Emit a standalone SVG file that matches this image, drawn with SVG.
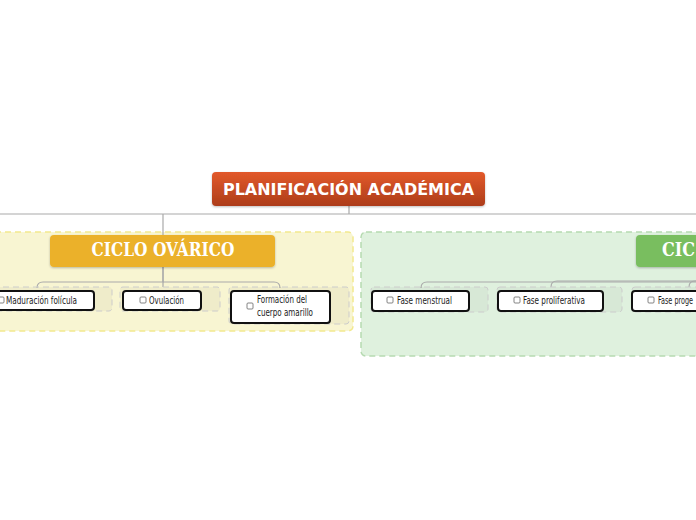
<svg xmlns="http://www.w3.org/2000/svg" width="696" height="520" viewBox="0 0 696 520">
<defs>
<linearGradient id="rootGrad" x1="0" y1="0" x2="0" y2="1">
<stop offset="0" stop-color="#e2592a"/>
<stop offset="1" stop-color="#ad3d1b"/>
</linearGradient>
<filter id="sh" x="-10%" y="-20%" width="120%" height="150%">
<feDropShadow dx="0" dy="1" stdDeviation="1" flood-color="#000" flood-opacity="0.25"/>
</filter>
</defs>
<style>
.conn{fill:none;stroke:#aaaaaa;stroke-width:1.2}
.wrap{fill:rgba(0,0,0,0.035);stroke:#cccccc;stroke-width:1;stroke-dasharray:6 4}
.leaf{fill:#ffffff;stroke:#111111;stroke-width:2}
.chk{fill:#ffffff;stroke:#666666;stroke-width:0.8}
.lt{font-family:"DejaVu Sans Condensed","DejaVu Sans","Liberation Sans",sans-serif;font-size:10.5px;fill:#222222}
.main{font-family:"DejaVu Serif","Liberation Serif",serif;font-weight:bold;font-size:18px;fill:#ffffff}
</style>
<rect width="696" height="520" fill="#ffffff"/>

<g id="boundaries">
<rect x="-20" y="232" width="373" height="99" rx="5" fill="#f8f5d2" stroke="#f2e98f" stroke-width="1.5" stroke-dasharray="6 4"/>
<rect x="361" y="232" width="360" height="124" rx="5" fill="#dff1de" stroke="#b6dab1" stroke-width="1.5" stroke-dasharray="6 4"/>
</g>

<g id="connectors">
<path class="conn" d="M349 206 V214 M0 214 H696 M163 214 V235" stroke-width="1.5"/>
<path class="conn" d="M163 267 V282 H43 Q37 282 37 288"/>
<path class="conn" d="M163 267 V287"/>
<path class="conn" d="M163 282 H274 Q280 282 280 288"/>
<path class="conn" d="M720 282 H427 Q421 282 421 288"/>
<path class="conn" d="M720 281 H557 Q551 281 551 287"/>
<path class="conn" d="M720 281 H695 Q689 281 689 287"/>
</g>

<g id="root">
<rect x="212" y="172" width="273" height="34" rx="4" fill="url(#rootGrad)" filter="url(#sh)"/>
<text x="348.5" y="194.5" text-anchor="middle" font-family="'DejaVu Sans','Verdana',sans-serif" font-weight="bold" font-size="15.5" fill="#ffffff" textLength="251" lengthAdjust="spacingAndGlyphs">PLANIFICACIÓN ACADÉMICA</text>
</g>

<g id="ciclo-ovarico">
<rect x="50" y="235" width="225" height="32" rx="4" fill="#ebb12b" filter="url(#sh)"/>
<text class="main" x="163" y="256" text-anchor="middle" textLength="143" lengthAdjust="spacingAndGlyphs">CICLO OVÁRICO</text>
</g>

<g id="ciclo-green">
<rect x="636" y="235" width="90" height="32" rx="4" fill="#79be5f" filter="url(#sh)"/>
<text class="main" x="662" y="256" textLength="33" lengthAdjust="spacingAndGlyphs">CIC</text>
</g>

<g id="maduracion">
<rect class="wrap" x="-40" y="287" width="152" height="24" rx="3"/>
<rect class="leaf" x="-12" y="291" width="106" height="19" rx="3"/>
<rect class="chk" x="-2" y="297" width="6" height="6" rx="1"/>
<text class="lt" x="6" y="304" textLength="71" lengthAdjust="spacingAndGlyphs">Maduración folícula</text>
</g>

<g id="ovulacion">
<rect class="wrap" x="120" y="287" width="100" height="24" rx="3"/>
<rect class="leaf" x="123" y="291" width="78" height="19" rx="3"/>
<rect class="chk" x="140" y="297" width="6" height="6" rx="1"/>
<text class="lt" x="149" y="304" textLength="35" lengthAdjust="spacingAndGlyphs">Ovulación</text>
</g>

<g id="formacion">
<rect class="wrap" x="229" y="287" width="120" height="37" rx="3"/>
<rect class="leaf" x="231" y="291" width="99" height="32" rx="3"/>
<rect class="chk" x="247" y="303" width="6" height="6" rx="1"/>
<text class="lt" x="257" y="303" textLength="50" lengthAdjust="spacingAndGlyphs">Formación del</text>
<text class="lt" x="257" y="316" textLength="56" lengthAdjust="spacingAndGlyphs">cuerpo amarillo</text>
</g>

<g id="fase-menstrual">
<rect class="wrap" x="371" y="287" width="117" height="25" rx="3"/>
<rect class="leaf" x="372" y="291" width="97" height="20" rx="3"/>
<rect class="chk" x="387" y="297" width="6" height="6" rx="1"/>
<text class="lt" x="397" y="304" textLength="55" lengthAdjust="spacingAndGlyphs">Fase menstrual</text>
</g>

<g id="fase-proliferativa">
<rect class="wrap" x="497" y="287" width="125" height="25" rx="3"/>
<rect class="leaf" x="498" y="291" width="105" height="20" rx="3"/>
<rect class="chk" x="514" y="297" width="6" height="6" rx="1"/>
<text class="lt" x="523" y="304" textLength="62" lengthAdjust="spacingAndGlyphs">Fase proliferativa</text>
</g>

<g id="fase-proge">
<rect class="wrap" x="632" y="287" width="100" height="25" rx="3"/>
<rect class="leaf" x="632" y="291" width="90" height="20" rx="3"/>
<rect class="chk" x="648" y="297" width="6" height="6" rx="1"/>
<text class="lt" x="658" y="304" textLength="35" lengthAdjust="spacingAndGlyphs">Fase proge</text>
</g>
</svg>
